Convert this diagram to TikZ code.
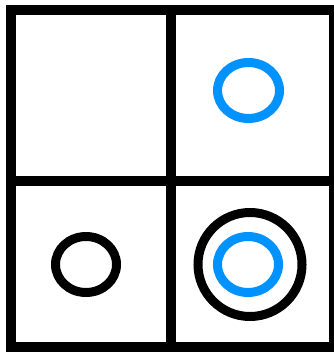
\documentclass[tikz,border=0pt]{standalone}
\definecolor{ringblue}{RGB}{0,146,255}
\begin{document}
\begin{tikzpicture}[x=1pt,y=-1pt,
  gridline/.style={line width=10pt,black},
  blackring/.style={line width=9pt,black},
  bluering/.style={line width=9pt,ringblue}]
\useasboundingbox[fill=white] (0,0) rectangle (333,352);
\draw[gridline] (11,10) rectangle (334,347);
\draw[gridline] (171,10) -- (171,347);
\draw[gridline] (11,181) -- (334,181);
\draw[bluering] (248.5,90.5) ellipse [x radius=31, y radius=28];
\draw[blackring] (86,264.5) ellipse [x radius=30.5, y radius=28];
\draw[blackring] (250,264.5) circle [radius=52];
\draw[bluering] (248,264.5) ellipse [x radius=30.5, y radius=28];
\end{tikzpicture}
\end{document}
